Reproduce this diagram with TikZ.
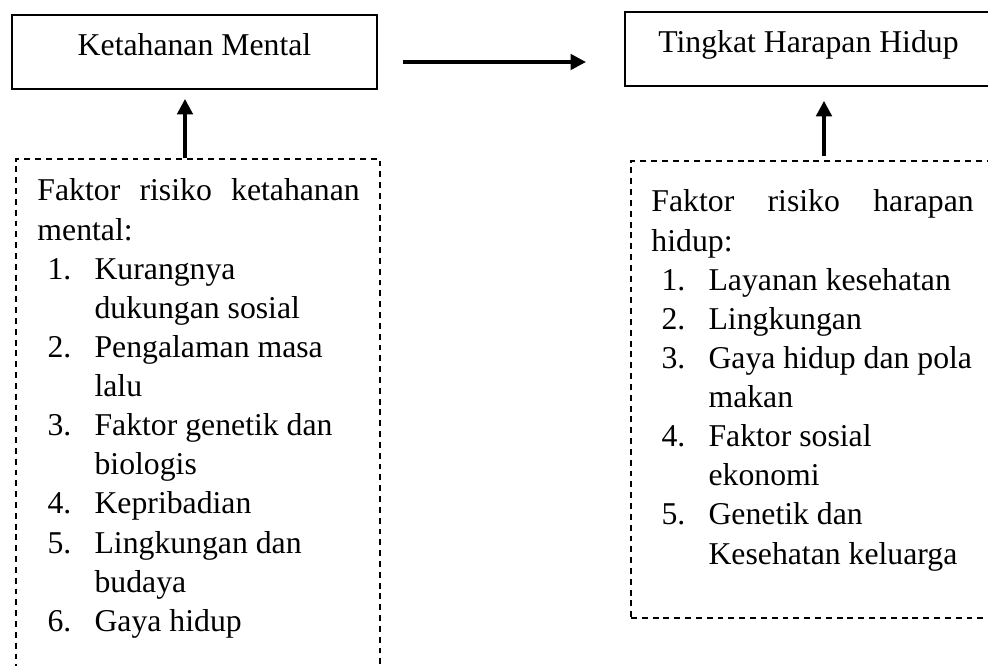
\documentclass[tikz,border=0pt]{standalone}
\usepackage{fontspec}
\setmainfont{Liberation Serif}
\usetikzlibrary{arrows.meta,fit}

\newenvironment{faktorlist}{\begin{list}{}{%
  \setlength\leftmargin{23.2pt}\setlength\labelwidth{19.1pt}%
  \setlength\labelsep{0pt}\setlength\itemsep{0pt}\setlength\parsep{0pt}%
  \setlength\topsep{0pt}\setlength\partopsep{0pt}%
  \renewcommand\makelabel[1]{##1\hfil}}}{\end{list}}

\tikzset{
  box/.style={draw, line width=0.7pt, inner sep=0pt},
  dbox/.style={draw, line width=0.55pt, dash pattern=on 2.4pt off 2pt, inner sep=0pt},
  txt/.style={inner sep=0pt, font=\fontsize{12.9pt}{15.9pt}\selectfont},
  arr/.style={line width=1.4pt, -{Triangle[length=6.3pt,width=6.3pt]}}
}

\begin{document}
\begin{tikzpicture}[x=0.4065pt,y=-0.4065pt]
\useasboundingbox (0,0) rectangle (988,666);
% kotak utama
\node[box, fit={(12,15) (377,89)}] (km) {};
\node[box, fit={(625,12) (1000,86)}] (thh) {};
\node[txt, anchor=base] (kmtxt) at (194.5,56) {Ketahanan Mental};
\node[txt, anchor=base] (thhtxt) at (808.5,53) {Tingkat Harapan Hidup};
% kotak faktor risiko
\node[dbox, fit={(16,159) (380,690)}] (fkm) {};
\node[dbox, fit={(631,161) (1000,618)}] (fhh) {};
\node[txt, anchor=base west, text width=131pt, align=justify] (fkmtxt) at (37,201) {%
\hyphenpenalty=10000 Faktor risiko ketahanan\linebreak mental:
\begin{faktorlist}
\item[1.] Kurangnya\newline dukungan sosial
\item[2.] Pengalaman masa\newline lalu
\item[3.] Faktor genetik dan\newline biologis
\item[4.] Kepribadian
\item[5.] Lingkungan dan\newline budaya
\item[6.] Gaya hidup
\end{faktorlist}};
\node[txt, anchor=base west, text width=131pt, align=justify] (fhhtxt) at (651,212) {%
\hyphenpenalty=10000 Faktor risiko harapan\linebreak hidup:
\begin{faktorlist}
\item[1.] Layanan kesehatan
\item[2.] Lingkungan
\item[3.] Gaya hidup dan pola\newline makan
\item[4.] Faktor sosial\newline ekonomi
\item[5.] Genetik dan\newline Kesehatan keluarga
\end{faktorlist}};
% panah
\coordinate (h1) at (403,62);
\coordinate (h2) at (586,62);
\coordinate (v1) at (185,0);
\coordinate (v2) at (824,0);
\draw[arr] (h1) -- (h2);
\draw[arr, shorten >=3.7pt] (v1 |- fkm.north) -- (v1 |- km.south);
\draw[arr, shorten <=1.6pt, shorten >=5.7pt] (v2 |- fhh.north) -- (v2 |- thh.south);
\end{tikzpicture}
\end{document}
